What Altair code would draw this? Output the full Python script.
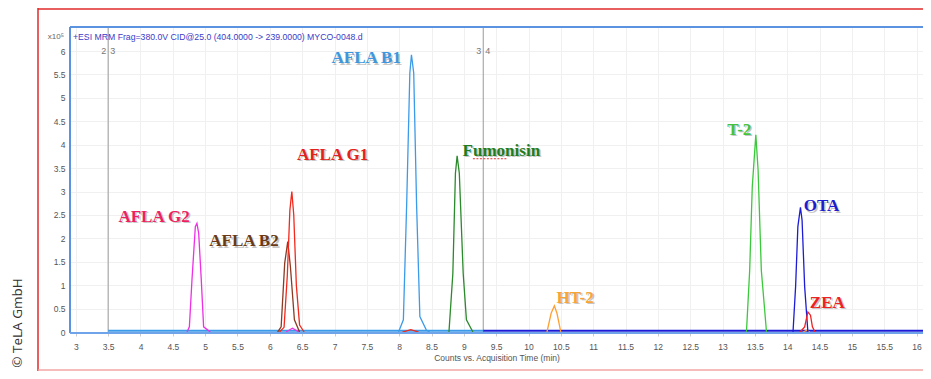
import altair as alt
import pandas as pd

# ---------------- data ----------------
compounds = ["AFLA G2", "AFLA B2", "AFLA G1", "AFLA B1", "Fumonisin", "HT-2", "T-2", "OTA", "ZEA"]
line_colors = ["#ee2fe6", "#8a3b24", "#f2291c", "#3c9be8", "#2b8a2b", "#ffa033", "#3cc83c", "#1c1cd6", "#f42020"]
label_colors = ["#ee1f63", "#6b3a14", "#e3221c", "#3d97de", "#1f7d1f", "#f7a535", "#43c43c", "#1c1cd0", "#ee2222"]

g2_t = [4.72, 4.756, 4.796, 4.848, 4.873, 4.90, 4.94, 4.976, 5.08]
g2_c = [0.0, 0.11, 1.11, 2.25, 2.32, 2.11, 1.11, 0.11, 0.0]
b2_t = [6.12, 6.175, 6.23, 6.277, 6.318, 6.38, 6.46]
b2_c = [0.0, 0.11, 1.47, 1.93, 1.40, 0.26, 0.0]
g1_t = [6.15, 6.22, 6.27, 6.31, 6.34, 6.37, 6.41, 6.46, 6.53]
g1_c = [0.0, 0.10, 1.20, 2.60, 3.00, 2.50, 1.00, 0.15, 0.0]
b1_t = [7.99, 8.065, 8.115, 8.165, 8.19, 8.225, 8.27, 8.32, 8.42, 8.47]
b1_c = [0.0, 0.26, 2.68, 5.53, 5.92, 5.53, 2.68, 0.33, 0.04, 0.0]
fum_t = [8.77, 8.83, 8.87, 8.896, 8.93, 8.99, 9.04, 9.14]
fum_c = [0.0, 1.25, 3.39, 3.76, 3.39, 1.25, 0.26, 0.0]
ht2_t = [10.285, 10.35, 10.40, 10.44, 10.50]
ht2_c = [0.0, 0.40, 0.56, 0.40, 0.0]
t2_t = [13.37, 13.42, 13.46, 13.515, 13.55, 13.60, 13.68]
t2_c = [0.0, 1.32, 3.10, 4.21, 3.46, 1.32, 0.0]
ota_t = [14.09, 14.13, 14.165, 14.205, 14.23, 14.27, 14.32]
ota_c = [0.0, 0.97, 2.25, 2.66, 2.39, 0.97, 0.0]
zea_t = [14.20, 14.27, 14.32, 14.36, 14.39, 14.43]
zea_c = [0.0, 0.11, 0.43, 0.36, 0.11, 0.0]

peak_times = [g2_t, b2_t, g1_t, b1_t, fum_t, ht2_t, t2_t, ota_t, zea_t]
peak_counts = [g2_c, b2_c, g1_c, b1_c, fum_c, ht2_c, t2_c, ota_c, zea_c]

# small bumps from other transitions
minor_names = ["AFLA G2", "AFLA G1", "HT-2"]
minor_times = [[6.25, 6.35, 6.45], [8.05, 8.18, 8.30], [14.25, 14.30, 14.35]]
minor_counts = [[0.0, 0.08, 0.0], [0.0, 0.05, 0.0], [0.0, 0.04, 0.0]]

# segment baselines
seg_names = ["AFLA B1", "OTA"]
seg_start = [3.5, 9.3]
seg_end = [9.3, 16.1]
seg_level = [0.025, 0.025]

# segment boundaries
seg_bounds = [3.5, 9.3]
seg_left_labels = ["2", "3"]
seg_right_labels = ["3", "4"]

# peak labels
label_t = [4.21, 5.60, 6.97, 7.49, 9.58, 10.72, 13.26, 14.53, 14.62]
label_c = [2.46, 1.94, 3.78, 5.85, 3.87, 0.73, 4.32, 2.69, 0.62]

x_ticks = [3 + 0.5 * i for i in range(27)]
y_ticks = [0.5 * i for i in range(13)]

header = "+ESI MRM Frag=380.0V CID@25.0 (404.0000 -> 239.0000) MYCO-0048.d"

# ---------------- tables ----------------
rows = []
for name, ts, cs in zip(compounds, peak_times, peak_counts):
    for t, c in zip(ts, cs):
        rows.append({"compound": name, "t": t, "counts": c})
peaks_df = pd.DataFrame(rows)

rows = []
for i, (name, ts, cs) in enumerate(zip(minor_names, minor_times, minor_counts)):
    for t, c in zip(ts, cs):
        rows.append({"compound": name, "grp": f"m{i}", "t": t, "counts": c})
minor_df = pd.DataFrame(rows)

rows = []
for name, a, b, lv in zip(seg_names, seg_start, seg_end, seg_level):
    rows.append({"compound": name, "t": a, "counts": lv})
    rows.append({"compound": name, "t": b, "counts": lv})
base_df = pd.DataFrame(rows)

bounds_df = pd.DataFrame({"t": seg_bounds, "l": seg_left_labels, "r": seg_right_labels,
                          "counts": [6.0, 6.0]})
labels_df = pd.DataFrame({"name": compounds, "t": label_t, "counts": label_c, "lc": label_colors})

color_scale = alt.Scale(domain=compounds, range=line_colors)

X = alt.X("t:Q",
          scale=alt.Scale(domain=[2.91, 16.1], nice=False, zero=False),
          axis=alt.Axis(values=x_ticks, format="~g", title="Counts vs. Acquisition Time (min)",
                        tickSize=3, tickColor="#cccccc", labelPadding=6, titlePadding=3,
                        grid=True))
Y = alt.Y("counts:Q",
          scale=alt.Scale(domain=[-0.021, 6.513], nice=False, zero=False),
          axis=alt.Axis(values=y_ticks, format="~g", title=None, ticks=False,
                        labelPadding=5, grid=True))

bounds = alt.Chart(bounds_df).mark_rule(color="#9a9a9a", strokeWidth=1).encode(x=X)
bound_l = alt.Chart(bounds_df).mark_text(align="right", baseline="middle", dx=-2, fontSize=9,
                                         color="#777777", font="Liberation Sans").encode(x=X, y=Y, text="l:N")
bound_r = alt.Chart(bounds_df).mark_text(align="left", baseline="middle", dx=2, fontSize=9,
                                         color="#777777", font="Liberation Sans").encode(x=X, y=Y, text="r:N")

baselines = alt.Chart(base_df).mark_line(strokeWidth=2, clip=True).encode(
    x=X, y=Y, color=alt.Color("compound:N", scale=color_scale, legend=None), detail="compound:N")

minor = alt.Chart(minor_df).mark_line(strokeWidth=1.3, clip=True).encode(
    x=X, y=Y, color=alt.Color("compound:N", scale=color_scale, legend=None), detail="grp:N")

peaks = alt.Chart(peaks_df).mark_line(strokeWidth=1.3, clip=True).encode(
    x=X, y=Y, color=alt.Color("compound:N", scale=color_scale, legend=None), detail="compound:N")

shadow = alt.Chart(labels_df).mark_text(font="Liberation Serif", fontWeight="bold", fontSize=17,
                                        dx=1.5, dy=1.5, color="#9a9a9a", opacity=0.55).encode(
    x=X, y=Y, text="name:N")
labels = alt.Chart(labels_df).mark_text(font="Liberation Serif", fontWeight="bold", fontSize=17).encode(
    x=X, y=Y, text="name:N", color=alt.Color("lc:N", scale=None))

fum_wave = alt.Chart(pd.DataFrame({"t": [9.14], "t2": [9.66], "counts": [3.70]})).mark_rule(
    color="#e03030", strokeWidth=1, strokeDash=[2, 1.5]).encode(x=X, x2="t2:Q", y=Y)

one = pd.DataFrame({"s": [header]})
head_txt = alt.Chart(one).mark_text(align="left", baseline="middle", fontSize=8.7,
                                    font="Liberation Sans", color="#3b3bc8").encode(
    x=alt.value(3), y=alt.value(10), text="s:N")
exp_txt = alt.Chart(pd.DataFrame({"s": ["x10⁵"]})).mark_text(align="right", baseline="middle", fontSize=8,
                                                              font="Liberation Sans", color="#666666").encode(
    x=alt.value(-6), y=alt.value(10), text="s:N")
copy_txt = alt.Chart(pd.DataFrame({"s": ["© TeLA GmbH"]})).mark_text(
    align="center", baseline="middle", angle=270, fontSize=13.5, font="Open Sans",
    color="#333333").encode(x=alt.value(-52), y=alt.value(296), text="s:N")

# frames
frame_c = "#5b93e0"
f_left = alt.Chart(one).mark_rule(color=frame_c, strokeWidth=2).encode(
    x=alt.value(0), y=alt.value(0), y2=alt.value(306))
f_top = alt.Chart(one).mark_rule(color=frame_c, strokeWidth=2).encode(
    x=alt.value(0), x2=alt.value(853), y=alt.value(0))
f_bot = alt.Chart(one).mark_rule(color="#6fa3ea", strokeWidth=2).encode(
    x=alt.value(0), x2=alt.value(853), y=alt.value(306))

red_left = alt.Chart(one).mark_rule(color="#e02a2a", strokeWidth=1.5).encode(
    x=alt.value(-32), y=alt.value(-19), y2=alt.value(344))
red_top = alt.Chart(one).mark_rule(color="#e02a2a", strokeWidth=1.5).encode(
    x=alt.value(-32), x2=alt.value(880), y=alt.value(-18))
red_bot = alt.Chart(one).mark_rule(color="#f3a6a6", strokeWidth=1.5).encode(
    x=alt.value(-32), x2=alt.value(880), y=alt.value(343))

chart = alt.layer(
    bounds, baselines, minor, peaks, fum_wave, shadow, labels, bound_l, bound_r,
    head_txt, exp_txt, copy_txt, f_left, f_top, f_bot, red_left, red_top, red_bot
).properties(
    width=853, height=306, autosize="none",
    padding={"left": 62, "top": 19, "right": 0, "bottom": 38},
    background="white"
).configure_view(
    stroke=None
).configure_axis(
    domain=False, gridColor="#f0f0f0", gridWidth=1,
    labelFont="Liberation Sans", labelFontSize=8.5, labelColor="#555555",
    titleFont="Liberation Sans", titleFontSize=8.5, titleColor="#555555", titleFontWeight="normal"
)

chart.save("out.html", embed_options={"renderer": "svg", "actions": False})
